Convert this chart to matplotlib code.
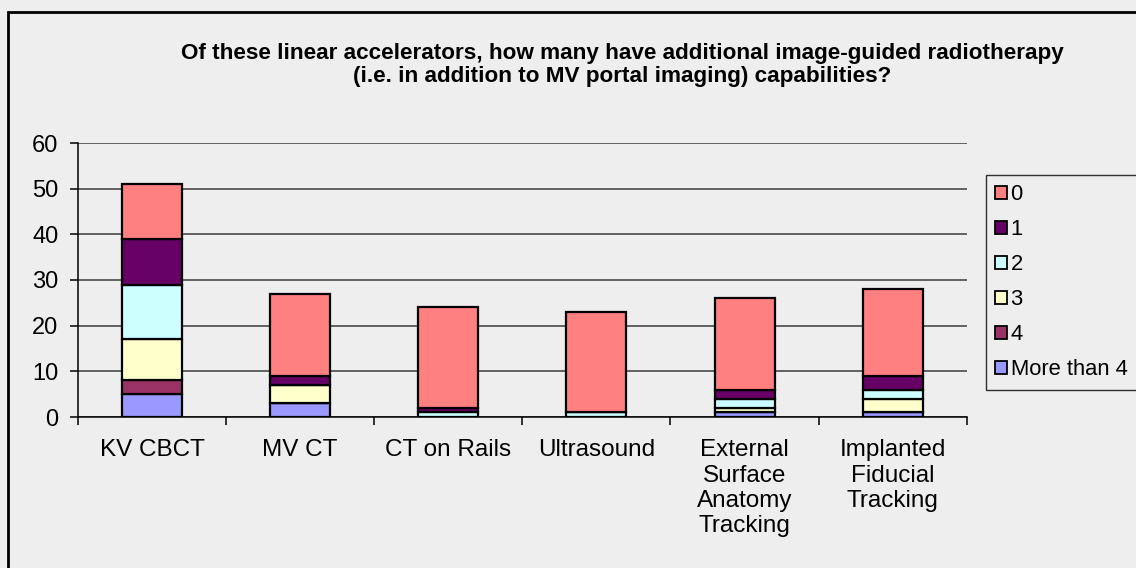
import matplotlib
matplotlib.use("Agg")
import matplotlib.pyplot as plt
from matplotlib.patches import Patch, Rectangle
import numpy as np

categories = ["KV CBCT", "MV CT", "CT on Rails", "Ultrasound",
              "External\nSurface\nAnatomy\nTracking", "Implanted\nFiducial\nTracking"]
series_names = ["More than 4", "4", "3", "2", "1", "0"]
more_than_4 = [5, 3, 0, 0, 1, 1]
four = [3, 0, 0, 0, 0, 0]
three = [9, 4, 0, 0, 1, 3]
two = [12, 0, 1, 1, 2, 2]
one = [10, 2, 1, 0, 2, 3]
zero = [12, 18, 22, 22, 20, 19]
series_values = [more_than_4, four, three, two, one, zero]
colors = ["#9999FF", "#993366", "#FFFFCC", "#CCFFFF", "#660066", "#FF8080"]
yticks = [0, 10, 20, 30, 40, 50, 60]
title = ("Of these linear accelerators, how many have additional image-guided radiotherapy\n"
         "(i.e. in addition to MV portal imaging) capabilities?")

plt.rcParams['font.family'] = ['Liberation Sans', 'DejaVu Sans']
bg = "#EEEEEE"
fig = plt.figure(figsize=(11.36, 5.68), dpi=100, facecolor=bg)
ax = fig.add_axes([78/1136, 1-417/568, (966.7-78)/1136, (417-143)/568])
ax.set_facecolor(bg)

x = np.arange(len(categories))
bottom = np.zeros(len(categories))
handles = []
for name, vals, c in zip(series_names, series_values, colors):
    ax.bar(x, vals, width=0.405, bottom=bottom, color=c, edgecolor="black",
           linewidth=1.6, zorder=3)
    bottom += np.array(vals)
    handles.append(Patch(facecolor=c, edgecolor="black", linewidth=1.3, label=name))

ax.set_xlim(-0.5, len(categories) - 0.5)
ax.set_ylim(0, 60)
ax.set_yticks(yticks)
ax.set_yticklabels([str(v) for v in yticks], fontsize=17)
ax.yaxis.grid(True, color="#3a3a3a", linewidth=1.1, zorder=0)
ax.set_axisbelow(True)
for s in ["top", "right"]:
    ax.spines[s].set_visible(False)
for s in ["left", "bottom"]:
    ax.spines[s].set_color("black")
    ax.spines[s].set_linewidth(1.1)
ax.tick_params(axis="y", direction="out", length=6, width=1.1, pad=8)

# category labels at centers, tick marks at boundaries
ax.set_xticks(np.arange(len(categories) + 1) - 0.5)
ax.set_xticklabels([])
ax.tick_params(axis="x", direction="out", length=6, width=1.1)
for xi, lab in zip(x, categories):
    ax.annotate(lab, xy=(xi, 0), xycoords=("data", "axes fraction"),
                xytext=(0, -16), textcoords="offset points",
                ha="center", va="top", fontsize=17.5, linespacing=1.2)

fig.text(0.548, 1-43/568, title, ha="center", va="top", fontsize=16.2,
         fontweight="bold", linespacing=1.12)

leg = fig.legend(handles=handles[::-1], loc="upper left",
                 bbox_to_anchor=(986/1136, 1-175/568), fontsize=15.8,
                 frameon=True, fancybox=False, handlelength=0.55, handleheight=0.55,
                 handletextpad=0.15, labelspacing=0.64, borderpad=0.42,
                 borderaxespad=0)
leg.get_frame().set_facecolor(bg)
leg.get_frame().set_edgecolor("black")
leg.get_frame().set_linewidth(1.0)

fig.patches.append(Rectangle((8/1136, -0.1), 1.2, 1.1 - 12/568 + 0.0,
                             transform=fig.transFigure, fill=False,
                             edgecolor="black", linewidth=2.0))

fig.savefig("out.png", dpi=100, facecolor=bg)
